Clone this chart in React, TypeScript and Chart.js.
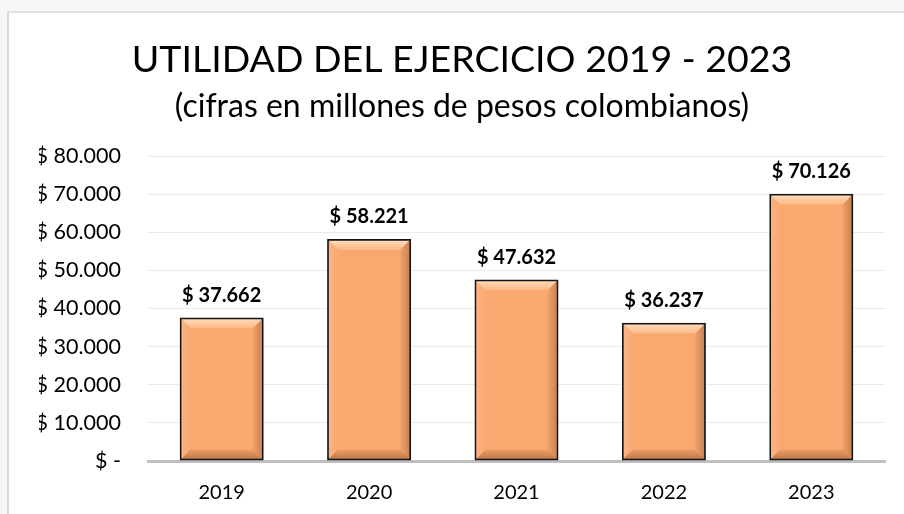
import React, { useEffect, useRef } from "react";
import { Chart, registerables } from "chart.js";

Chart.register(...registerables);

const TITLE = "UTILIDAD DEL EJERCICIO 2019 - 2023";
const SUBTITLE = "(cifras en millones de pesos colombianos)";
const categories = ["2019", "2020", "2021", "2022", "2023"];
const utilidad = [37662, 58221, 47632, 36237, 70126];
const yTicks = [0, 10000, 20000, 30000, 40000, 50000, 60000, 70000, 80000];

const FONT = "Lato, 'Open Sans', sans-serif";

function fmt(v: number): string {
  if (v === 0) return "$ -";
  return "$ " + String(Math.round(v)).replace(/\B(?=(\d{3})+(?!\d))/g, ".");
}

const bevelPlugin = {
  id: "bevel",
  afterDatasetsDraw(chart: any) {
    const ctx = chart.ctx;
    const meta = chart.getDatasetMeta(0);
    meta.data.forEach((bar: any) => {
      const p = bar.getProps(["x", "y", "base", "width"], true);
      const bw = 1.75;
      const l = p.x - p.width / 2 + bw;
      const r = p.x + p.width / 2 - bw;
      const t = p.y + bw;
      const b = p.base - bw;
      const s = 9;
      ctx.save();
      let g = ctx.createLinearGradient(0, t, 0, t + s);
      g.addColorStop(0, "#FFD9B8");
      g.addColorStop(1, "#FBB985");
      ctx.fillStyle = g;
      ctx.beginPath();
      ctx.moveTo(l, t);
      ctx.lineTo(r, t);
      ctx.lineTo(r - s, t + s);
      ctx.lineTo(l + s, t + s);
      ctx.closePath();
      ctx.fill();
      g = ctx.createLinearGradient(l, 0, l + s, 0);
      g.addColorStop(0, "#FBB482");
      g.addColorStop(1, "#F9A972");
      ctx.fillStyle = g;
      ctx.beginPath();
      ctx.moveTo(l, t);
      ctx.lineTo(l + s, t + s);
      ctx.lineTo(l + s, b - s);
      ctx.lineTo(l, b);
      ctx.closePath();
      ctx.fill();
      g = ctx.createLinearGradient(r - s, 0, r, 0);
      g.addColorStop(0, "#F2A06A");
      g.addColorStop(1, "#C98453");
      ctx.fillStyle = g;
      ctx.beginPath();
      ctx.moveTo(r, t);
      ctx.lineTo(r, b);
      ctx.lineTo(r - s, b - s);
      ctx.lineTo(r - s, t + s);
      ctx.closePath();
      ctx.fill();
      g = ctx.createLinearGradient(0, b - s, 0, b);
      g.addColorStop(0, "#EE9C65");
      g.addColorStop(1, "#C07B4C");
      ctx.fillStyle = g;
      ctx.beginPath();
      ctx.moveTo(l, b);
      ctx.lineTo(r, b);
      ctx.lineTo(r - s, b - s);
      ctx.lineTo(l + s, b - s);
      ctx.closePath();
      ctx.fill();
      ctx.restore();
    });
  },
};

const labelPlugin = {
  id: "valueLabels",
  afterDatasetsDraw(chart: any) {
    const ctx = chart.ctx;
    const meta = chart.getDatasetMeta(0);
    ctx.save();
    ctx.font = "bold 20px " + FONT;
    ctx.fillStyle = "#000";
    ctx.textAlign = "center";
    ctx.textBaseline = "middle";
    meta.data.forEach((bar: any, i: number) => {
      const p = bar.getProps(["x", "y"], true);
      ctx.fillText(fmt(utilidad[i]), p.x, p.y - 22);
    });
    ctx.restore();
  },
};

export default function App() {
  const ref = useRef<HTMLCanvasElement | null>(null);
  useEffect(() => {
    if (!ref.current) return;
    const chart = new Chart(ref.current, {
      type: "bar",
      data: {
        labels: categories,
        datasets: [
          {
            data: utilidad,
            backgroundColor: "#F9A96F",
            borderColor: "#151515",
            borderWidth: 2.5,
            borderSkipped: false,
            barPercentage: 0.57,
            categoryPercentage: 1,
          },
        ],
      },
      options: {
        animation: false,
        responsive: false,
        maintainAspectRatio: false,
        layout: { padding: { top: 0, left: 39, right: 19, bottom: -11 } },
        plugins: {
          legend: { display: false },
          tooltip: { enabled: false },
          title: {
            display: true,
            text: TITLE,
            color: "#000",
            font: { family: FONT, size: 37.5, weight: "normal", lineHeight: 1.2 },
            padding: { top: 37, bottom: 5.4 },
          },
          subtitle: {
            display: true,
            text: SUBTITLE,
            color: "#000",
            font: { family: FONT, size: 32, weight: "normal", lineHeight: 1.2 },
            padding: { top: 0, bottom: 30.2 },
          },
        },
        scales: {
          x: {
            grid: { display: false, drawTicks: false },
            border: { display: true, color: "#BFBFBF", width: 3 },
            ticks: { color: "#000", font: { family: FONT, size: 20 }, padding: 20 },
          },
          y: {
            min: 0,
            max: 80000,
            clip: false,
            afterBuildTicks(scale: any) {
              scale.ticks = yTicks.map((v) => ({ value: v }));
            },
            afterFit(scale: any) {
              scale.width = 109;
            },
            grid: { color: "#EBEBEB", lineWidth: 1, drawTicks: false },
            border: { display: false },
            ticks: {
              color: "#000",
              font: { family: FONT, size: 21.5 },
              padding: 27,
              callback: (v: any) => fmt(Number(v)),
            },
          },
        },
      },
      plugins: [bevelPlugin, labelPlugin],
    });
    return () => chart.destroy();
  }, []);

  return (
    <div style={{ position: "fixed", left: 0, top: 0, width: 904, height: 514, background: "#F7F7F7", overflow: "hidden" }}>
      <div
        style={{
          position: "absolute",
          left: 7,
          top: 11,
          width: 920,
          height: 520,
          background: "#FFFFFF",
          borderLeft: "2px solid #D9D9D9",
          borderTop: "2px solid #E0E0E0",
        }}
      />
      <canvas ref={ref} width={904} height={514} style={{ position: "absolute", left: 0, top: 0 }} />
    </div>
  );
}
